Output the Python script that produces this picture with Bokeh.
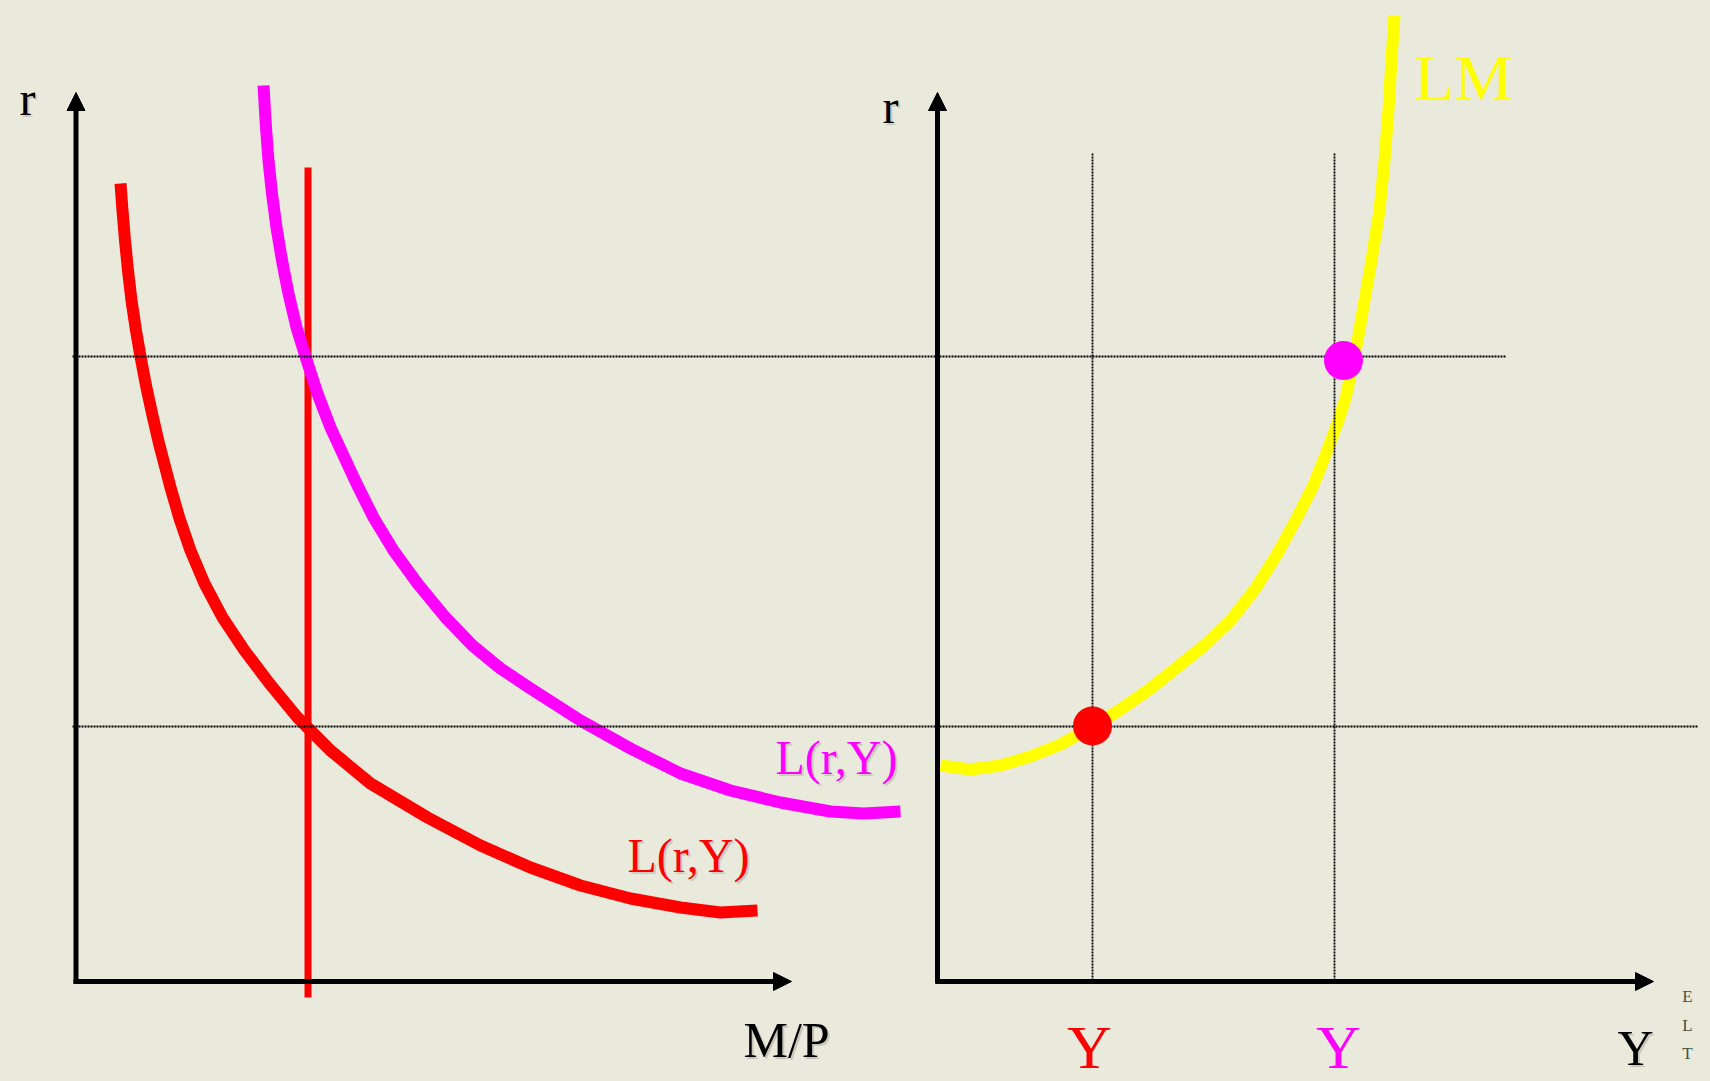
from bokeh.plotting import figure
from bokeh.models import Range1d, Arrow, NormalHead
from bokeh.core.properties import value
from bokeh.embed import file_html
from bokeh.resources import INLINE

# ---- data (slide coordinates, y grows downward) ----
red_L_x = [120, 122, 124.5, 127.5, 131, 135.5, 140, 145.5, 152, 158.5, 163.5, 170, 179, 190, 204,
           222, 244, 269, 297, 330, 370, 427, 480, 530, 580, 630, 680, 720, 757]
red_L_y = [183, 210, 240, 270, 300, 330, 356, 385, 415, 443, 462, 487, 518, 550, 583,
           617, 650, 683, 717, 750, 783, 817, 845, 867, 885, 898, 907, 912, 910]

mag_L_x = [263, 265.5, 268, 271.5, 276, 281.5, 288, 296, 305, 317, 330, 343, 356, 373, 393,
           417, 445, 472, 500, 530, 580, 630, 680, 730, 780, 830, 863, 900]
mag_L_y = [85, 127, 160, 193, 227, 260, 293, 327, 356, 393, 427, 455, 483, 517, 550,
           583, 617, 645, 668, 688, 720, 748, 773, 790, 802, 811, 813, 811]

lm_x = [940, 970, 1000, 1030, 1060, 1092, 1120, 1150, 1180, 1205, 1230, 1255, 1277, 1295,
        1312, 1326, 1338, 1345, 1351, 1358, 1364, 1371, 1379, 1384, 1388, 1391, 1394]
lm_y = [765, 769, 765, 756, 744, 726, 709, 688, 664, 644, 620, 588, 553, 520,
        487, 452, 420, 398, 370, 335, 300, 260, 210, 160, 110, 60, 15]

money_supply = [307.5]          # vertical M/P line
r_levels = [356, 726]           # two interest-rate levels
y_levels = [1092, 1334]         # two income levels
eq_x = [1092, 1343]
eq_y = [725.5, 360]
eq_colors = ["#ff0000", "#ff00ff"]

BG = "#e9e9dc"
FONT = "Liberation Serif"

p = figure(width=1710, height=1081, x_range=Range1d(0, 1710), y_range=Range1d(1081, 0),
           output_backend="svg", toolbar_location=None, min_border=0)
p.axis.visible = False
p.grid.visible = False
p.outline_line_color = None
p.background_fill_color = BG
p.border_fill_color = BG

# curves
p.line(red_L_x, red_L_y, line_color="#ff0000", line_width=12, line_cap="butt", line_join="round")
p.line([money_supply[0], money_supply[0]], [167, 997], line_color="#ff0000", line_width=7)
p.line(mag_L_x, mag_L_y, line_color="#ff00ff", line_width=12, line_cap="butt", line_join="round")
p.line(lm_x, lm_y, line_color="#ffff00", line_width=12, line_cap="butt", line_join="round")

# dotted guides
DOT = dict(line_color="black", line_width=1.8, line_dash="2 1")
p.line([72, 1505], [r_levels[0], r_levels[0]], **DOT)
p.line([72, 1697], [r_levels[1], r_levels[1]], **DOT)
for yl in y_levels:
    p.line([yl, yl], [153, 981], **DOT)

# axes with arrow heads
def axis_arrow(x0, y0, x1, y1):
    p.add_layout(Arrow(end=NormalHead(size=18, fill_color="black", line_color="black"),
                       x_start=x0, y_start=y0, x_end=x1, y_end=y1,
                       line_width=5, line_color="black"))

axis_arrow(75.5, 983, 75.5, 92)
axis_arrow(73, 981, 791, 981)
axis_arrow(937, 983, 937, 92)
axis_arrow(935, 981, 1653, 981)

# equilibrium points
p.scatter(eq_x, eq_y, marker="circle", size=39, fill_color=eq_colors, line_color=None)

# texts (y given as the visual baseline; corrected for renderer's baseline offset)
K = 0.31
def label(x, y, t, color, size, align="left", shadow=True):
    yy = y - K * size
    if shadow:
        p.text([x + 2], [yy + 2], text=[t], text_color="black", text_alpha=0.15,
               text_font=value(FONT), text_font_size=f"{size}px",
               text_align=align, text_baseline="alphabetic")
    p.text([x], [yy], text=[t], text_color=color,
           text_font=value(FONT), text_font_size=f"{size}px",
           text_align=align, text_baseline="alphabetic")

label(19, 113, "r", "black", 48)
label(882, 121, "r", "black", 48)
label(743, 1055, "M/P", "black", 50)
label(1635, 1063, "Y", "black", 50, align="center")
label(1089, 1066, "Y", "#ff0000", 62, align="center", shadow=False)
label(1338, 1066, "Y", "#ff00ff", 62, align="center", shadow=False)
label(1413, 97, "LM", "#ffff00", 66, shadow=False)
label(775, 772, "L(r,Y)", "#ff00ff", 48)
label(627, 870, "L(r,Y)", "#ff0000", 48)

for ch, yb in zip(["E", "L", "T"], [1001, 1030, 1058]):
    label(1687, yb, ch, "#3f5540", 17, align="center", shadow=False)

html = file_html(p, INLINE)
css = f"<style>html, body {{ margin:0 !important; padding:0 !important; background:{BG}; overflow:hidden; }}</style>"
html = html.replace("</head>", css + "</head>", 1)
open("out.html", "w").write(html)
